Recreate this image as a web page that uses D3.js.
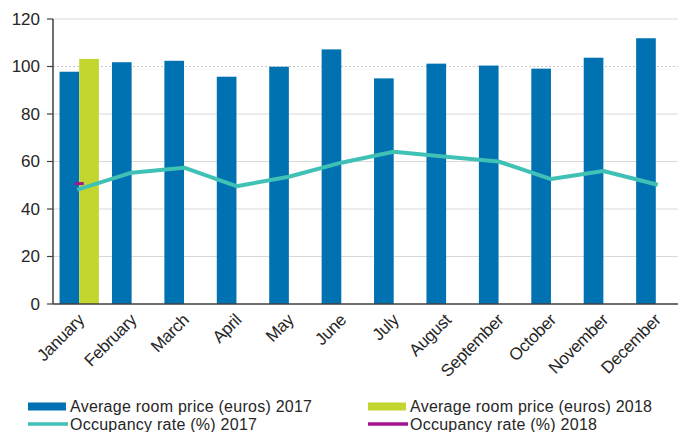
<!DOCTYPE html>
<html>
<head>
<meta charset="utf-8">
<script src="https://cdn.jsdelivr.net/npm/d3@7"></script>
<style>
  html, body { margin: 0; padding: 0; background: #fff; }
  svg text { font-family: "Liberation Sans", Arial, sans-serif; fill: #262626; }
</style>
</head>
<body>
<svg id="chart" width="678" height="432"></svg>
<script>
const months = ['January', 'February', 'March', 'April', 'May', 'June',
    'July', 'August', 'September', 'October', 'November', 'December']
const price2017 = [97.8, 101.8, 102.4, 95.7, 99.9, 107.2, 95.0, 101.2, 100.4, 99.1, 103.7, 111.9]
const price2018 = [103.2, null, null, null, null, null, null, null, null, null, null, null]
const occ2017 = [48.4, 55.3, 57.4, 49.6, 53.6, 59.5, 64.1, 62.0, 60.0, 52.6, 56.0, 50.4]
const occ2018 = [50.7, null, null, null, null, null, null, null, null, null, null, null]
const yTicks = [0, 20, 40, 60, 80, 100, 120]
const legendItems = [
    { label: 'Average room price (euros) 2017', color: '#0071b1', kind: 'bar' },
    { label: 'Average room price (euros) 2018', color: '#c3d52f', kind: 'bar' },
    { label: 'Occupancy rate (%) 2017', color: '#3fc1b5', kind: 'line' },
    { label: 'Occupancy rate (%) 2018', color: '#a3158f', kind: 'line' }
]

const PLOT = { left: 53, right: 682, top: 19, bottom: 304 }
const svg = d3.select('#chart')

const x0 = d3.scaleBand()
    .domain(months)
    .range([PLOT.left, PLOT.right])
    .paddingInner(0.25)
    .paddingOuter(0.125)

const x1 = d3.scaleBand()
    .domain(['2017', '2018'])
    .range([0, x0.bandwidth()])

const y = d3.scaleLinear()
    .domain([0, 120])
    .range([PLOT.bottom, PLOT.top])

const cx = m => x0(m) + x0.bandwidth() / 2

// Gridlines
svg.append('g')
    .selectAll('line')
    .data(yTicks.filter(t => t > 0))
    .enter().append('line')
    .attr('x1', PLOT.left).attr('x2', 678)
    .attr('y1', d => y(d)).attr('y2', d => y(d))
    .attr('stroke', d => d === 100 ? '#c8c8c8' : '#d9d9d9')
    .attr('stroke-width', 1)
    .attr('stroke-dasharray', d => d === 100 ? '2,2' : null)

// Bars
const bars = svg.append('g')
months.forEach((m, i) => {
    if (price2017[i] != null) {
        bars.append('rect')
            .attr('x', x0(m) + x1('2017'))
            .attr('y', y(price2017[i]))
            .attr('width', x1.bandwidth())
            .attr('height', y(0) - y(price2017[i]))
            .attr('fill', legendItems[0].color)
    }
    if (price2018[i] != null) {
        bars.append('rect')
            .attr('x', x0(m) + x1('2018'))
            .attr('y', y(price2018[i]))
            .attr('width', x1.bandwidth())
            .attr('height', y(0) - y(price2018[i]))
            .attr('fill', legendItems[1].color)
    }
})

// Occupancy line 2017
const lineGen = d3.line()
    .defined(d => d.v != null)
    .x(d => cx(d.m))
    .y(d => y(d.v))

svg.append('path')
    .datum(months.map((m, i) => ({ m, v: occ2017[i] })))
    .attr('fill', 'none')
    .attr('stroke', legendItems[2].color)
    .attr('stroke-width', 4)
    .attr('stroke-linecap', 'square')
    .attr('stroke-linejoin', 'round')
    .attr('d', lineGen)

// Occupancy 2018: single value, drawn as short dash
months.forEach((m, i) => {
    if (occ2018[i] == null) return
    svg.append('line')
        .attr('x1', cx(m) - 4.5).attr('x2', cx(m) + 4.5)
        .attr('y1', y(occ2018[i])).attr('y2', y(occ2018[i]))
        .attr('stroke', legendItems[3].color)
        .attr('stroke-width', 3)
})

// Y axis
const yAxis = svg.append('g')
yAxis.append('line')
    .attr('x1', PLOT.left).attr('x2', PLOT.left)
    .attr('y1', PLOT.top).attr('y2', PLOT.bottom)
    .attr('stroke', '#404040').attr('stroke-width', 1.5)
yAxis.selectAll('line.tick')
    .data(yTicks).enter().append('line')
    .attr('class', 'tick')
    .attr('x1', PLOT.left - 6).attr('x2', PLOT.left)
    .attr('y1', d => y(d)).attr('y2', d => y(d))
    .attr('stroke', '#404040').attr('stroke-width', 1.2)
yAxis.selectAll('text')
    .data(yTicks).enter().append('text')
    .attr('x', 40)
    .attr('y', d => y(d))
    .attr('dy', '0.35em')
    .attr('text-anchor', 'end')
    .style('font-size', '17px')
    .text(d => d)

// X axis
svg.append('line')
    .attr('x1', PLOT.left).attr('x2', 678)
    .attr('y1', PLOT.bottom).attr('y2', PLOT.bottom)
    .attr('stroke', '#404040').attr('stroke-width', 1.5)

svg.append('g')
    .selectAll('text')
    .data(months).enter().append('text')
    .attr('transform', d => `translate(${cx(d) + 6},${PLOT.bottom + 17}) rotate(-45)`)
    .attr('text-anchor', 'end')
    .style('font-size', '17px')
    .style('letter-spacing', '-0.3px')
    .text(d => d)

// Legend
const legendPos = [
    { x: 28, y: 406.5 }, { x: 368, y: 406.5 },
    { x: 28, y: 424 }, { x: 368, y: 424 }
]
const legend = svg.append('g')
legendItems.forEach((item, i) => {
    const p = legendPos[i]
    if (item.kind === 'bar') {
        legend.append('rect')
            .attr('x', p.x).attr('y', p.y - 4)
            .attr('width', 38).attr('height', 8)
            .attr('fill', item.color)
    } else {
        legend.append('line')
            .attr('x1', p.x).attr('x2', p.x + 40)
            .attr('y1', p.y).attr('y2', p.y)
            .attr('stroke', item.color)
            .attr('stroke-width', 3.5)
    }
    legend.append('text')
        .attr('x', p.x + 42)
        .attr('y', p.y + 5.5)
        .style('font-size', '16px')
        .style('letter-spacing', '0.25px')
        .text(item.label)
})
</script>
</body>
</html>
